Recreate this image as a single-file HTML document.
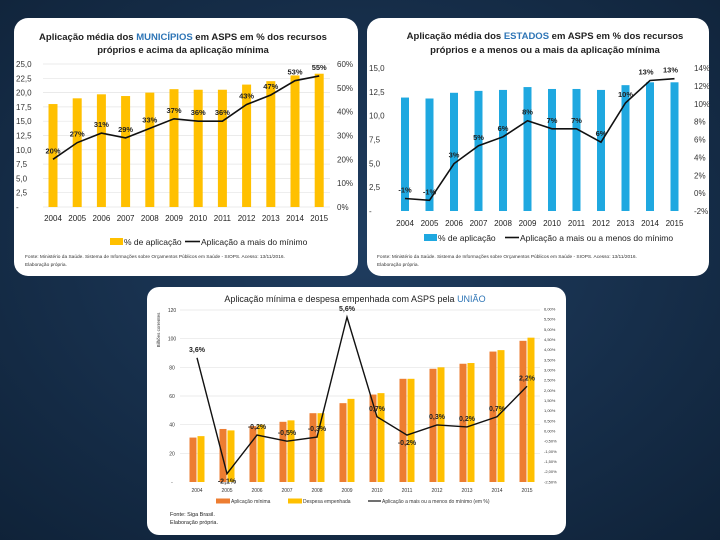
<!DOCTYPE html>
<html><head><meta charset="utf-8"><style>
html,body{margin:0;padding:0;background:#152d4a;}
svg{display:block;font-family:"Liberation Sans",sans-serif;}
</style></head><body>
<svg id="s" width="720" height="540" viewBox="0 0 720 540">
<defs><radialGradient id="bg" cx="50%" cy="45%" r="75%"><stop offset="0" stop-color="#1f3d60"/><stop offset="1" stop-color="#0f2238"/></radialGradient></defs>
<rect width="720" height="540" fill="url(#bg)"/>
<rect x="14" y="18" width="344" height="258" rx="14" fill="#fff"/>
<rect x="367" y="18" width="342" height="258" rx="14" fill="#fff"/>
<rect x="147" y="287" width="419" height="248" rx="12" fill="#fff"/>
<g id="c1"></g>
<g id="c2"></g>
<g id="c3"></g>
</svg>
<script>
const years=["2004","2005","2006","2007","2008","2009","2010","2011","2012","2013","2014","2015"];
const munBars=[18,19,19.7,19.4,20,20.6,20.5,20.5,21.4,22,23,23.3];
const munLine=[20,27,31,29,33,37,36,36,43,47,53,55];
const munLeftTicks=["-","2,5","5,0","7,5","10,0","12,5","15,0","17,5","20,0","22,5","25,0"];
const munRightTicks=["0%","10%","20%","30%","40%","50%","60%"];
const estBars=[11.9,11.8,12.4,12.6,12.7,13,12.8,12.8,12.7,13.2,13.5,13.5];
const estLine=[-0.6,-0.8,3.3,5.3,6.3,8.1,7.2,7.2,5.7,10.1,12.6,12.8];
const estLabels=["-1%","-1%","3%","5%","6%","8%","7%","7%","6%","10%","13%","13%"];
const estLeftTicks=["-","2,5","5,0","7,5","10,0","12,5","15,0"];
const estRightTicks=["-2%","0%","2%","4%","6%","8%","10%","12%","14%"];
const uniMin=[31,37,39,42,48,55,61,72,79,82.5,91,98.5];
const uniDesp=[32,36,40,43,48,58,62,72,80,83,92,100.7];
const uniLine=[3.6,-2.1,-0.2,-0.5,-0.3,5.6,0.7,-0.2,0.3,0.2,0.7,2.2];
const uniLabels=["3,6%","-2,1%","-0,2%","-0,5%","-0,3%","5,6%","0,7%","-0,2%","0,3%","0,2%","0,7%","2,2%"];
const uniLeftTicks=["-","20","40","60","80","100","120"];
const uniRightTicks=["-2,50%","-2,00%","-1,50%","-1,00%","-0,50%","0,00%","0,50%","1,00%","1,50%","2,00%","2,50%","3,00%","3,50%","4,00%","4,50%","5,00%","5,50%","6,00%"];

const NS="http://www.w3.org/2000/svg";
function mk(p,t,a,txt){const e=document.createElementNS(NS,t);for(const k in a)e.setAttribute(k,a[k]);if(txt!==undefined)e.textContent=txt;p.appendChild(e);return e;}
function lin(d0,d1,r0,r1){return v=>r0+(v-d0)/(d1-d0)*(r1-r0);}

// ---- Chart 1
(function(){
const g=document.getElementById('c1');
const x=i=>53+i*24.2, y=lin(0,25,207,64), yr=lin(0,60,207,64);
let t=mk(g,'text',{x:183,y:40,'text-anchor':'middle','font-size':9.5,'font-weight':'bold',fill:'#222'});

t.innerHTML='Aplicação média dos <tspan fill="#2e75b6">MUNICÍPIOS</tspan> em ASPS em % dos recursos';
t=mk(g,'text',{x:183,y:53,'text-anchor':'middle','font-size':9.5,'font-weight':'bold',fill:'#222'},'próprios e acima da aplicação mínima');

munLeftTicks.forEach((s,i)=>{const v=i*2.5;const yy=y(v);
 const l=mk(g,'line',{x1:43,x2:330,y1:yy,y2:yy,stroke:'#e4e4e4','stroke-width':0.7});
 const e=mk(g,'text',{x:16,y:yy+3,'font-size':8,fill:'#333'},s);});
munRightTicks.forEach((s,i)=>{const e=mk(g,'text',{x:337,y:yr(i*10)+3,'font-size':8,fill:'#333'},s);});
munBars.forEach((v,i)=>{const r=mk(g,'rect',{x:x(i)-4.5,y:y(v),width:9,height:207-y(v),fill:'#ffc000'});
 const e=mk(g,'text',{x:x(i),y:221,'text-anchor':'middle','font-size':8,fill:'#222'},years[i]);});
const p=mk(g,'polyline',{points:munLine.map((v,i)=>x(i)+','+yr(v)).join(' '),fill:'none',stroke:'#111','stroke-width':1.6});
munLine.forEach((v,i)=>{const e=mk(g,'text',{x:x(i),y:yr(v)-6,'text-anchor':'middle','font-size':7.5,'font-weight':'bold',fill:'#222'},v+'%');});
let r=mk(g,'rect',{x:110,y:238,width:13,height:7,fill:'#ffc000'});
t=mk(g,'text',{x:124,y:245,'font-size':8.5,fill:'#222'},'% de aplicação');
r=mk(g,'line',{x1:185,x2:200,y1:241.5,y2:241.5,stroke:'#111','stroke-width':1.6});
t=mk(g,'text',{x:201,y:245,'font-size':8.5,fill:'#222'},'Aplicação a mais do mínimo');
t=mk(g,'text',{x:25,y:258,'font-size':4.8,fill:'#333'},'Fonte: Ministério da Saúde. Sistema de Informações sobre Orçamentos Públicos em Saúde - SIOPS. Acesso: 13/11/2016.');
t=mk(g,'text',{x:25,y:266,'font-size':4.8,fill:'#333'},'Elaboração própria.');
})();

// ---- Chart 2
(function(){
const g=document.getElementById('c2');
const x=i=>405+i*24.5, y=lin(0,15,211,68), yr=lin(-2,14,211,68);
let t=mk(g,'text',{x:545,y:39,'text-anchor':'middle','font-size':9.5,'font-weight':'bold',fill:'#222'});

t.innerHTML='Aplicação média dos <tspan fill="#2e75b6">ESTADOS</tspan> em ASPS em % dos recursos';
t=mk(g,'text',{x:545,y:53,'text-anchor':'middle','font-size':9.5,'font-weight':'bold',fill:'#222'},'próprios e a menos ou a mais da aplicação mínima');

estLeftTicks.forEach((s,i)=>{const yy=y(i*2.5);
 const e=mk(g,'text',{x:369,y:yy+3,'font-size':8,fill:'#333'},s);});
estRightTicks.forEach((s,i)=>{const e=mk(g,'text',{x:694,y:yr(-2+i*2)+3,'font-size':8,fill:'#333'},s);});
estBars.forEach((v,i)=>{const r=mk(g,'rect',{x:x(i)-4,y:y(v),width:8,height:211-y(v),fill:'#1fa8e0'});
 const e=mk(g,'text',{x:x(i),y:226,'text-anchor':'middle','font-size':8,fill:'#222'},years[i]);});
const p=mk(g,'polyline',{points:estLine.map((v,i)=>x(i)+','+yr(v)).join(' '),fill:'none',stroke:'#111','stroke-width':1.6});
estLine.forEach((v,i)=>{const e=mk(g,'text',{x:x(i)+(i>=10?-4:0),y:yr(v)-6,'text-anchor':'middle','font-size':7.5,'font-weight':'bold',fill:'#222'},estLabels[i]);});
let r=mk(g,'rect',{x:424,y:234,width:13,height:7,fill:'#1fa8e0'});
t=mk(g,'text',{x:438,y:241,'font-size':8.5,fill:'#222'},'% de aplicação');
r=mk(g,'line',{x1:505,x2:519,y1:237.5,y2:237.5,stroke:'#111','stroke-width':1.6});
t=mk(g,'text',{x:520,y:241,'font-size':8.5,fill:'#222'},'Aplicação a mais ou a menos do mínimo');
t=mk(g,'text',{x:377,y:258,'font-size':4.8,fill:'#333'},'Fonte: Ministério da Saúde. Sistema de Informações sobre Orçamentos Públicos em Saúde - SIOPS. Acesso: 13/11/2016.');
t=mk(g,'text',{x:377,y:266,'font-size':4.8,fill:'#333'},'Elaboração própria.');
})();

// ---- Chart 3
(function(){
const g=document.getElementById('c3');
const x=i=>197+i*30, y=lin(0,120,482,310), yr=lin(0,6,431,309);
let t=mk(g,'text',{x:355,y:302,'text-anchor':'middle','font-size':9,fill:'#222'});

t.innerHTML='Aplicação mínima e despesa empenhada com ASPS pela <tspan fill="#2e75b6">UNIÃO</tspan>';
t=mk(g,'text',{x:0,y:0,'font-size':4.5,fill:'#333',transform:'translate(160,330) rotate(-90)','text-anchor':'middle'},'Bilhões correntes');
uniLeftTicks.forEach((s,i)=>{const yy=y(i*20);
 if(i>0){const l=mk(g,'line',{x1:180,x2:540,y1:yy,y2:yy,stroke:'#e4e4e4','stroke-width':0.7});}
 const e=mk(g,'text',{x:172,y:yy+2,'font-size':5,fill:'#333','text-anchor':'middle'},s);});
uniRightTicks.forEach((s,i)=>{const e=mk(g,'text',{x:544,y:yr(-2.5+i*0.5)+1.5,'font-size':4,fill:'#333'},s);});
uniMin.forEach((v,i)=>{const r=mk(g,'rect',{x:x(i)-7.5,y:y(v),width:7,height:482-y(v),fill:'#ed7d31'});
 const r2=mk(g,'rect',{x:x(i)+0.5,y:y(uniDesp[i]),width:7,height:482-y(uniDesp[i]),fill:'#ffc000'});
 const e=mk(g,'text',{x:x(i),y:492,'text-anchor':'middle','font-size':5,fill:'#333'},years[i]);});
const p=mk(g,'polyline',{points:uniLine.map((v,i)=>x(i)+','+yr(v)).join(' '),fill:'none',stroke:'#111','stroke-width':1.4});
uniLine.forEach((v,i)=>{const below=(i===1||i===7);const e=mk(g,'text',{x:x(i),y:below?yr(v)+10:yr(v)-6,'text-anchor':'middle','font-size':7,'font-weight':'bold',fill:'#222'},uniLabels[i]);});
let r=mk(g,'rect',{x:216,y:498.5,width:14,height:5,fill:'#ed7d31'});
t=mk(g,'text',{x:231,y:503,'font-size':5,fill:'#333'},'Aplicação mínima');
r=mk(g,'rect',{x:288,y:498.5,width:14,height:5,fill:'#ffc000'});
t=mk(g,'text',{x:303,y:503,'font-size':5,fill:'#333'},'Despesa empenhada');
r=mk(g,'line',{x1:368,x2:381,y1:501,y2:501,stroke:'#111','stroke-width':1.2});
t=mk(g,'text',{x:382,y:503,'font-size':5,fill:'#333'},'Aplicação a mais ou a menos do mínimo (em %)');
t=mk(g,'text',{x:170,y:516,'font-size':5.5,fill:'#222'},'Fonte: Siga Brasil.');
t=mk(g,'text',{x:170,y:524,'font-size':5.5,fill:'#222'},'Elaboração própria.');
})();
</script>
</body></html>
